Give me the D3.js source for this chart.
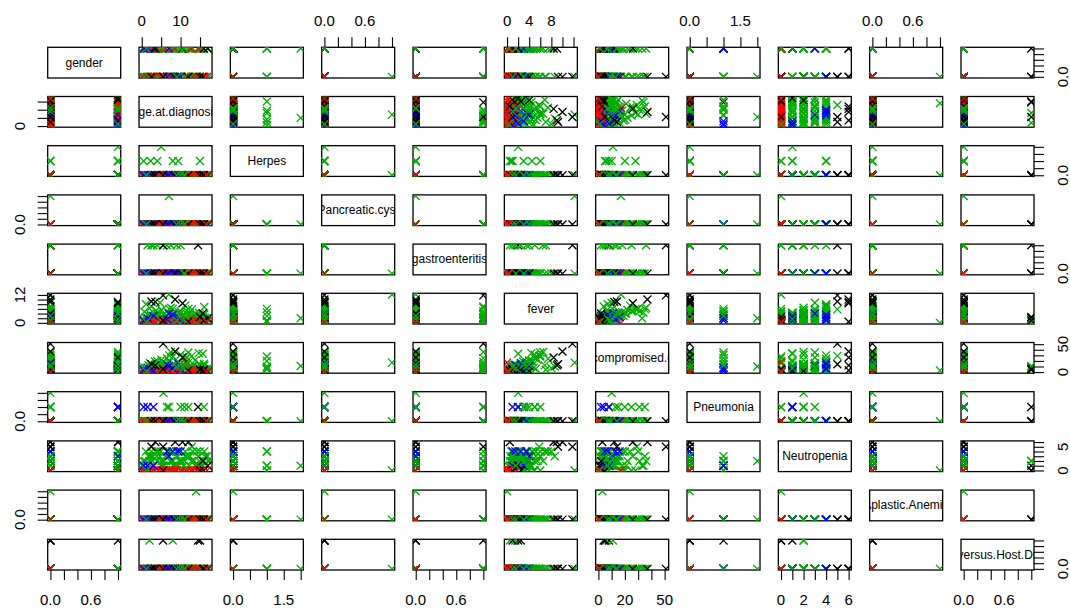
<!DOCTYPE html>
<html>
<head>
<meta charset="utf-8">
<script src="https://cdn.jsdelivr.net/npm/d3@7"></script>
<style>
  body { margin: 0; background: #fff; }
  svg { display: block; }
  text { font-family: "Liberation Sans", Arial, sans-serif; fill: #000; }
</style>
</head>
<body>
<svg id="chart" width="1070" height="610"></svg>
<script>
// ---- patient records, one array per variable (same row order everywhere) ----
const outcome = [
  1,
  3,3,3,3,3,3,3,3,3,3, 3,3,3,3,3,3,3,3,3,3, 3,3,3,
  3,3,3,3,3,3,3,3,3,3, 3,3,3,3,3,3,3,3,3,3, 3,3,3,3,3,3,3,3,3,3, 3,3,3,3,3,3,3,3,
  3,3,3,3,3,3,3,3,3,3, 3,3,3,3,3,3,3,3,3,3, 3,3,3,3,3,3,3,3,3,3,
  2,2,2,2,2,2,2,2,2,2, 2,2,2,2,2,2,2,2,2,2, 2,2,2,2,
  4,4,4,4,4,4,4,4, 1,1,1,1,1,1,1,1,1,1,1, 3,3,3,3,3, 2
];
const gender = [
  1,
  0,0,1,0,1,0,1,0,1,0, 0,0,0,0,0,1,0,1,0,1, 0,0,0,
  1,0,0,1,0,1,0,1,0,1, 0,1,0,1,0,1,0,0,1,0, 1,0,1,0,1,0,1,0,1,0, 1,0,1,0,1,0,1,0,
  0,1,0,1,1,0,1,0,0,1, 1,0,1,0,1,0,0,1,0,1, 1,0,1,0,0,1,0,1,1,0,
  0,1,0,1,0,0,1,0,0,1, 0,0,1,0,0,1,0,0,1,0, 0,1,0,0,
  1,1,1,0,0,0,1,0, 0,0,0,1,0,1,0,1,1,0,0, 0,0,1,1,1, 0
];
const ageAtDiagnosis = [
  14.5,
  7,14,5,0.5,2.3,4,8,9.4,15,7, 10,12,16,5.6,1.5,3,4,5.5,6.5,7.5, 2.5,2,8,
  0.2,0.9,1.7,2.7,3.1,3.9,4.3,5.1,5.3,6.1, 6.8,7.1,7.9,8.3,9.2,9.5,10.3,11.6,11.9,12.8,
  13.1,13.7,14.6,14.9,15.7,16.1,16.9,17.4,1.1,4.7, 11.2,12.9,6.3,9.9,3.4,14.7,8.7,2.1,
  0.4,1.4,2.4,3.3,4.1,4.9,5.8,6.5,7.4,8.1, 8.9,9.7,10.6,11.3,12.2,13.4,14.2,15.3,16.4,17.1,
  0.7,2.9,5.6,7.7,10.0,12.4,13.9,15.9,3.7,9.1,
  0,0.8,1.3,2.2,2.9,3.4,4.3,4.8,5.7,6.2, 7.1,7.6,8.5,9.0,9.9,10.4,11.3,11.8,12.7,13.2, 14.1,14.6,15.5,16.0,
  0.5,1.5,3,6.5,8,9.3,7,10, 2.5,5.5,8.6,3.5,15.7,17,12,16,10.5,5.5,15, 11,9,10,10.8,1.2, 16.8
];
const herpes = [
  0,
  0,0,2,1,1,1,1,1,1,0, 0,0,0,0,0,0,0,0,0,0, 0,0,0,
  0,0,0,0,0,0,0,0,0,0, 0,0,0,0,0,0,0,0,0,0, 0,0,0,0,0,0,0,0,0,0, 0,0,0,0,0,0,0,0,
  0,0,0,0,0,0,0,0,0,0, 0,0,0,0,0,0,0,0,0,0, 0,0,0,0,0,0,0,0,0,0,
  0,0,0,0,0,0,0,0,0,0, 0,0,0,0,0,0,0,0,0,0, 0,0,0,0,
  0,0,0,0,0,0,0,0, 0,0,0,0,0,0,0,0,0,0,0, 0,0,0,0,0, 0
];
const pancreaticCyst = [
  0,
  1,0,0,0,0,0,0,0,0,0, 0,0,0,0,0,0,0,0,0,0, 0,0,0,
  0,0,0,0,0,0,0,0,0,0, 0,0,0,0,0,0,0,0,0,0, 0,0,0,0,0,0,0,0,0,0, 0,0,0,0,0,0,0,0,
  0,0,0,0,0,0,0,0,0,0, 0,0,0,0,0,0,0,0,0,0, 0,0,0,0,0,0,0,0,0,0,
  0,0,0,0,0,0,0,0,0,0, 0,0,0,0,0,0,0,0,0,0, 0,0,0,0,
  0,0,0,0,0,0,0,0, 0,0,0,0,0,0,0,0,0,0,0, 0,0,0,0,0, 0
];
const gastroenteritis = [
  1,
  0,0,0,0,0,0,0,0,0,0, 0,0,0,0,1,1,1,1,1,1, 1,0,0,
  0,0,0,0,0,0,0,0,0,0, 0,0,0,0,0,0,0,0,0,0, 0,0,0,0,0,0,0,0,0,0, 0,0,0,0,0,0,0,0,
  0,0,0,0,0,0,0,0,0,0, 0,0,0,0,0,0,0,0,0,0, 0,0,0,0,0,0,0,0,0,0,
  0,0,0,0,0,0,0,0,0,0, 0,0,0,0,0,0,0,0,0,0, 0,0,0,0,
  0,0,0,0,0,0,0,0, 0,1,0,0,0,0,0,0,0,0,0, 0,1,1,0,0, 0
];
const fever = [
  2,
  12.2,0,2,0.5,3,4.5,6,1,0.8,4, 5,6,3.5,2,0.5,1.5,2.5,3.5,5,6.5, 7,0.5,1.5,
  1.2,2.2,3.3,1.8,4.2,2.6,0.9,5.5,2.0,3.0, 1.4,6.0,2.4,3.8,0.6,4.6,2.8,5.2,3.4,0.8,
  2.2,4.0,1.0,3.6,2.0,6.8,1.4,2.6,8.0,8.6, 7.4,5.8,0.4,1.2,2.9,4.4,0.2,3.9,
  1.6,0.7,2.9,1.1,3.6,1.9,0.5,2.7,1.3,4.1, 2.3,0.9,3.1,1.7,2.5,1.2,3.3,0.6,2.1,1.5,
  4.8,2.0,1.0,3.7,0.8,4.3,2.6,1.8,5.2,0.4,
  0,0.5,0,1.0,0.3,0,1.5,0.2,0.8,0, 1.2,0,0.6,0,1.8,0.4,0,1.0,0.2,0, 1.4,0.6,0,0.9,
  1,2,3,1.5,3.5,2.5,4,1, 9.2,11.8,10,9,4,2,0.5,1,8.4,1,2.5, 3,1,4,1.6,0.3, 0.3
];
const immunocompromised = [
  8,
  17,3,11,5,8,20,28,10,6,20, 31,35,15,10,2,6,12,18,25,36, 4,11,6,
  3,7,12,4,9,15,2,22,6,10, 5,30,13,8,3,18,11,26,16,4,
  9,21,6,14,33,12,5,8,7,10, 24,29,1,2,19,34,0.5,16,
  4,2,9,6,11,3,5,14,7,12, 2,8,4,10,6,13,3,9,5,7, 8,1,12,4,6,10,2,11,6,3,
  0,1,2,0.5,3,1.5,2.5,0,1,2, 3,0.5,1.5,2.5,0,1,17,2,3,1, 0.5,2,1.5,2.5,
  4,8,2,13,7,16,11,5, 14,51,37,12,2,1,3,4,26,5,4, 13,9,14,7,1, 0
];
const pneumonia = [
  1,
  0,0,0,0,0,0,0,0,0,1, 1,1,1,2,0,0,0,0,1,0, 0,0,0,
  0,0,0,0,0,0,0,0,0,0, 0,0,0,0,0,0,0,0,0,0, 0,0,0,0,0,0,0,0,0,0, 0,0,0,0,0,0,0,0,
  0,0,0,0,0,0,0,0,0,0, 0,0,0,0,0,0,0,0,0,0, 0,0,0,0,0,0,0,0,0,0,
  0,0,0,0,0,0,0,0,0,0, 0,0,0,0,0,0,0,0,0,0, 0,0,0,0,
  1,1,1,0,0,0,0,0, 0,0,0,0,0,0,0,0,0,0,0, 1,0,0,0,0, 0
];
const neutropenia = [
  1,
  0,0,1,0,1,4,0,1,4,0, 2,3,2,2,0,1,2,1,0,2, 4,2,2,
  1,2,3,2,1,3,4,2,1,3, 0,4,2,1,3,4,2,3,0,2, 4,1,3,2,1,4,3,2,4,3, 4,5,0,0,0,1,1,3,
  2,1,3,0,2,4,1,3,2,1, 4,2,0,3,1,2,4,1,3,2, 0,3,1,4,2,3,1,2,4,0,
  0,0,0,0,0,0,0,0,0,0, 0,0,0,0,0,0,0,0,0,0, 0,0,0,0,
  1,1,1,4,4,4,3,4, 5,5,6,6,2,1,6,0,6,0,0, 2,3,2,1,0, 0
];
const aplasticAnemia = [
  0,
  0,1,0,0,0,0,0,0,0,0, 0,0,0,0,0,0,0,0,0,0, 0,0,0,
  0,0,0,0,0,0,0,0,0,0, 0,0,0,0,0,0,0,0,0,0, 0,0,0,0,0,0,0,0,0,0, 0,0,0,0,0,0,0,0,
  0,0,0,0,0,0,0,0,0,0, 0,0,0,0,0,0,0,0,0,0, 0,0,0,0,0,0,0,0,0,0,
  0,0,0,0,0,0,0,0,0,0, 0,0,0,0,0,0,0,0,0,0, 0,0,0,0,
  0,0,0,0,0,0,0,0, 0,0,0,0,0,0,0,0,0,0,0, 0,0,0,0,0, 0
];
const graftVsHost = [
  1,
  0,0,0,0,0,0,0,0,0,0, 0,0,0,0,0,0,0,0,0,0, 0,1,1,
  0,0,0,0,0,0,0,0,0,0, 0,0,0,0,0,0,0,0,0,0, 0,0,0,0,0,0,0,0,0,0, 0,0,0,0,0,0,0,0,
  0,0,0,0,0,0,0,0,0,0, 0,0,0,0,0,0,0,0,0,0, 0,0,0,0,0,0,0,0,0,0,
  0,0,0,0,0,0,0,0,0,0, 0,0,0,0,0,0,0,0,0,0, 0,0,0,0,
  0,0,0,0,0,0,0,0, 0,0,0,0,0,0,0,0,0,1,1, 0,0,0,0,0, 0
];

// ---- variable names (diagonal) and axis ticks ----
const varLabels = ["gender", "age.at.diagnosis", "Herpes", "Pancreatic.cyst", "gastroenteritis",
  "fever", "immunocompromised.condition", "Pneumonia", "Neutropenia", "Aplastic.Anemia",
  "Graft.versus.Host.Disease"];
const tickValues = [
  [0, 0.2, 0.4, 0.6, 0.8, 1],
  [0, 5, 10, 15],
  [0, 0.5, 1, 1.5, 2],
  [0, 0.2, 0.4, 0.6, 0.8, 1],
  [0, 0.2, 0.4, 0.6, 0.8, 1],
  [0, 2, 4, 6, 8, 10, 12],
  [0, 10, 20, 30, 40, 50],
  [0, 0.5, 1, 1.5, 2],
  [0, 1, 2, 3, 4, 5, 6],
  [0, 0.2, 0.4, 0.6, 0.8, 1],
  [0, 0.2, 0.4, 0.6, 0.8, 1]
];
// labels printed on horizontal (top/bottom) and vertical (left/right) axes
const horizLabelled = [[0, 0.6], [0, 10], [0, 1.5], [0, 0.6], [0, 0.6], [0, 4, 8], [0, 20, 50], [0, 1.5], [0, 2, 4, 6], [0, 0.6], [0, 0.6]];
const vertLabelled = [[0], [0], [0], [0], [0], [0, 12], [0, 50], [0], [0, 5], [0], [0]];
const labelDecimals = [1, 0, 1, 1, 1, 0, 0, 1, 0, 1, 1];

const palette = ["#000000", "#ff0000", "#00b000", "#0000ff"];

// ---- layout ----
const X0 = 47.7, STEP_X = 91.33, W = 73;
const Y0 = 47.3, STEP_Y = 49.2, H = 30.7;
const TICK = 10;

const columns = [gender, ageAtDiagnosis, herpes, pancreaticCyst, gastroenteritis, fever,
  immunocompromised, pneumonia, neutropenia, aplasticAnemia, graftVsHost];
const nVar = columns.length;

const records = outcome.map((cls, r) => ({ cls, v: columns.map(c => c[r]) }));

function paddedDomain(values) {
  const [lo, hi] = d3.extent(values);
  const pad = (hi - lo) * 0.04;
  return [lo - pad, hi + pad];
}
const xScales = columns.map((c, j) =>
  d3.scaleLinear().domain(paddedDomain(c)).range([X0 + j * STEP_X, X0 + j * STEP_X + W]));
const yScales = columns.map((c, i) =>
  d3.scaleLinear().domain(paddedDomain(c)).range([Y0 + i * STEP_Y + H, Y0 + i * STEP_Y]));

const fmt = k => d3.format(labelDecimals[k] ? ".1f" : "d");

const svg = d3.select("#chart");
const defs = svg.append("defs");

const cross = "M-4,-4L4,4M-4,4L4,-4";

for (let i = 0; i < nVar; i++) {
  for (let j = 0; j < nVar; j++) {
    const px = X0 + j * STEP_X, py = Y0 + i * STEP_Y;
    const id = `clip-${i}-${j}`;
    defs.append("clipPath").attr("id", id)
      .append("rect").attr("x", px).attr("y", py).attr("width", W).attr("height", H);

    const g = svg.append("g");
    g.append("rect")
      .attr("x", px).attr("y", py).attr("width", W).attr("height", H)
      .attr("fill", "none").attr("stroke", "#000").attr("stroke-width", 1.3);

    const inner = g.append("g").attr("clip-path", `url(#${id})`);
    if (i === j) {
      inner.append("text")
        .attr("x", px + W / 2).attr("y", py + H / 2)
        .attr("text-anchor", "middle").attr("dominant-baseline", "central")
        .style("font-size", "12px")
        .text(varLabels[i]);
    } else {
      const sx = xScales[j], sy = yScales[i];
      inner.selectAll("path")
        .data(records)
        .join("path")
        .attr("d", cross)
        .attr("transform", d => `translate(${sx(d.v[j])},${sy(d.v[i])})`)
        .attr("fill", "none")
        .attr("stroke", d => palette[d.cls - 1])
        .attr("stroke-width", 1.3);
    }
  }
}

// ---- axes in the outer margins (alternating sides) ----
const axisLayer = svg.append("g");

function drawTicks(axis, transform) {
  const a = axisLayer.append("g").attr("transform", transform)
    .call(axis.tickSize(TICK).tickSizeOuter(0).tickFormat(""));
  a.select(".domain").remove();
  a.selectAll(".tick line").attr("stroke", "#000").attr("stroke-width", 1.1);
}

for (let j = 0; j < nVar; j++) {
  const sx = xScales[j];
  if (j % 2 === 1) {
    drawTicks(d3.axisTop(sx).tickValues(tickValues[j]), `translate(0,${Y0})`);
    axisLayer.selectAll(null).data(horizLabelled[j]).join("text")
      .attr("x", d => sx(d)).attr("y", Y0 - 21)
      .attr("text-anchor", "middle").style("font-size", "15px")
      .text(d => fmt(j)(d));
  } else {
    const yb = Y0 + (nVar - 1) * STEP_Y + H;
    drawTicks(d3.axisBottom(sx).tickValues(tickValues[j]), `translate(0,${yb})`);
    axisLayer.selectAll(null).data(horizLabelled[j]).join("text")
      .attr("x", d => sx(d)).attr("y", yb + 35)
      .attr("text-anchor", "middle").style("font-size", "15px")
      .text(d => fmt(j)(d));
  }
}

for (let i = 0; i < nVar; i++) {
  const sy = yScales[i];
  if (i % 2 === 1) {
    drawTicks(d3.axisLeft(sy).tickValues(tickValues[i]), `translate(${X0},0)`);
    axisLayer.selectAll(null).data(vertLabelled[i]).join("text")
      .attr("transform", d => `translate(${X0 - 23},${sy(d)}) rotate(-90)`)
      .attr("text-anchor", "middle").style("font-size", "15px")
      .text(d => fmt(i)(d));
  } else {
    const xr = X0 + (nVar - 1) * STEP_X + W;
    drawTicks(d3.axisRight(sy).tickValues(tickValues[i]), `translate(${xr},0)`);
    axisLayer.selectAll(null).data(vertLabelled[i]).join("text")
      .attr("transform", d => `translate(${xr + 34},${sy(d)}) rotate(-90)`)
      .attr("text-anchor", "middle").style("font-size", "15px")
      .text(d => fmt(i)(d));
  }
}
</script>
</body>
</html>
